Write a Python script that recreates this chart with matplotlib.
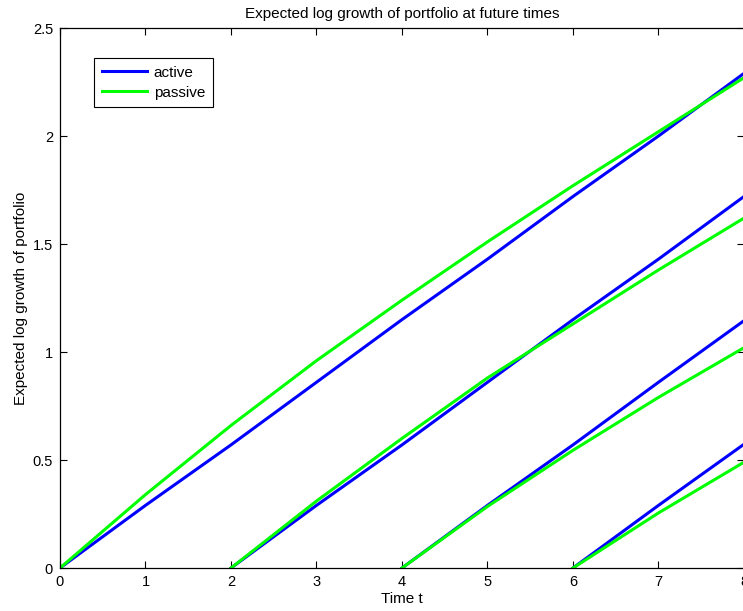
import matplotlib
matplotlib.use("Agg")
from matplotlib import pyplot as plt

plt.rcParams['font.family'] = ['Liberation Sans', 'DejaVu Sans']

# start times of each investment horizon
starts = [0, 2, 4, 6]

# active strategy (straight lines), values read at integer times
active_t = [[0, 1, 2, 3, 4, 5, 6, 7, 8],
            [2, 3, 4, 5, 6, 7, 8],
            [4, 5, 6, 7, 8],
            [6, 7, 8]]
active_v = [[0, 0.29, 0.57, 0.86, 1.15, 1.43, 1.72, 2.00, 2.29],
            [0, 0.29, 0.57, 0.86, 1.15, 1.43, 1.72],
            [0, 0.29, 0.57, 0.86, 1.145],
            [0, 0.29, 0.573]]

# passive strategy (concave curves)
passive_t = active_t
passive_v = [[0, 0.34, 0.66, 0.96, 1.24, 1.51, 1.77, 2.02, 2.27],
             [0, 0.31, 0.60, 0.88, 1.13, 1.38, 1.62],
             [0, 0.285, 0.545, 0.79, 1.02],
             [0, 0.255, 0.49]]

fig = plt.figure(figsize=(7.43, 6.11), dpi=100)
ax = fig.add_axes([60/743, 43/611, 684/743, 540/611])

for i in range(len(starts)):
    ax.plot(active_t[i], active_v[i], color=(0, 0, 1), lw=2.2,
            label='active' if i == 0 else None)
    ax.plot(passive_t[i], passive_v[i], color=(0, 1, 0), lw=2.2,
            label='passive' if i == 0 else None)

ax.set_xlim(0, 8)
ax.set_ylim(0, 2.5)
ax.set_xticks(range(9))
ax.set_yticks([0, 0.5, 1, 1.5, 2, 2.5])
ax.set_yticklabels(['0', '0.5', '1', '1.5', '2', '2.5'])
ax.tick_params(direction='in', top=True, right=True, length=5, width=0.8,
               labelsize=10.5)
ax.tick_params(axis='x', pad=5)
ax.tick_params(axis='y', pad=5)
for s in ax.spines.values():
    s.set_linewidth(0.9)

ax.set_title('Expected log growth of portfolio at future times', fontsize=11, pad=7.5)
ax.set_xlabel('Time t', fontsize=11, labelpad=2.5)
ax.set_ylabel('Expected log growth of portfolio', fontsize=11, labelpad=3.5)

leg = ax.legend(loc='upper left', bbox_to_anchor=(34/684, 1 - 30/540),
                fontsize=11, fancybox=False, framealpha=1, edgecolor='black',
                handlelength=3.0, borderaxespad=0, borderpad=0.5,
                labelspacing=0.4, handletextpad=0.4)
leg.get_frame().set_linewidth(0.8)

fig.savefig('out.png', dpi=100)
